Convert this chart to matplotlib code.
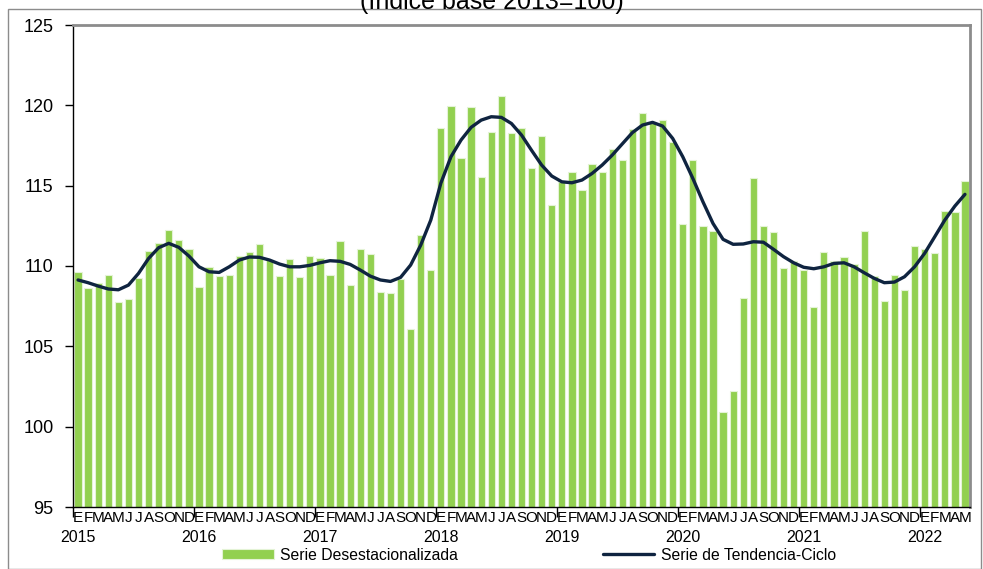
import matplotlib.pyplot as plt
import numpy as np
from matplotlib.patches import Rectangle

plt.rcParams["font.family"] = ["Liberation Sans", "DejaVu Sans"]

## Data (Jan 2015 - May 2022)
years = ["2015", "2016", "2017", "2018", "2019", "2020", "2021", "2022"]
month_letters = ["E", "F", "M", "A", "M", "J", "J", "A", "S", "O", "N", "D"]

desest = [
    109.64, 108.65, 108.95, 109.42, 107.76, 107.92, 109.25, 110.93, 111.43, 112.26, 111.61, 111.05,  # 2015
    108.69, 109.91, 109.37, 109.41, 110.64, 110.85, 111.39, 110.37, 109.37, 110.43, 109.31, 110.64,  # 2016
    110.47, 109.44, 111.55, 108.79, 111.05, 110.74, 108.40, 108.30, 109.21, 106.08, 111.93, 109.75,  # 2017
    118.56, 119.95, 116.70, 119.87, 115.52, 118.31, 120.60, 118.29, 118.60, 116.08, 118.12, 113.77,  # 2018
    115.24, 115.87, 114.71, 116.33, 115.83, 117.26, 116.57, 118.54, 119.54, 118.87, 119.08, 117.73,  # 2019
    112.59, 116.57, 112.51, 112.17, 100.89, 102.20, 108.00, 115.49, 112.49, 112.09, 109.89, 110.31,  # 2020
    109.77, 107.45, 110.87, 110.31, 110.56, 110.10, 112.17, 109.39, 107.82, 109.42, 108.52, 111.22,  # 2021
    111.05, 110.82, 113.40, 113.36, 115.27,                                                          # 2022
]

tendencia = [
    109.13, 108.96, 108.75, 108.57, 108.52, 108.81, 109.54, 110.47, 111.14, 111.41, 111.16, 110.62,
    109.95, 109.64, 109.60, 109.95, 110.37, 110.56, 110.54, 110.37, 110.12, 109.95, 109.95, 110.04,
    110.20, 110.33, 110.29, 110.10, 109.75, 109.37, 109.13, 109.04, 109.29, 110.06, 111.30, 112.86,
    115.16, 116.80, 117.84, 118.63, 119.08, 119.29, 119.25, 118.87, 118.15, 117.20, 116.28, 115.60,
    115.24, 115.18, 115.35, 115.76, 116.28, 116.90, 117.60, 118.30, 118.77, 118.94, 118.71, 117.94,
    116.80, 115.45, 114.00, 112.65, 111.66, 111.35, 111.37, 111.51, 111.48, 111.04, 110.58, 110.20,
    109.92, 109.83, 109.95, 110.16, 110.20, 109.95, 109.58, 109.23, 108.96, 109.00, 109.33, 109.95,
    110.79, 111.82, 112.86, 113.73, 114.46,
]

n = len(desest)
x = np.arange(n)

## Figure
fig = plt.figure(figsize=(9.83, 5.69), dpi=100)
ax = fig.add_axes([73 / 983, 62 / 569, 897 / 983, 482 / 569])

bars = ax.bar(x, desest, width=0.72, bottom=0, color="#92D050", edgecolor="#e4f3d6",
              linewidth=0.8, label="Serie Desestacionalizada", zorder=2)
line, = ax.plot(x, tendencia, color="#0f2440", linewidth=2.4, solid_capstyle="round",
                label="Serie de Tendencia-Ciclo", zorder=3)

ax.set_ylim(95, 125)
ax.set_xlim(-0.5, n - 0.5)
ax.set_yticks(np.arange(95, 126, 5))
ax.tick_params(axis="y", labelsize=13, length=6, width=1, pad=8)

# month letters under each bar, year boundary ticks
ax.set_xticks(x)
ax.set_xticklabels([month_letters[i % 12] for i in x], fontsize=11)
ax.tick_params(axis="x", length=0, pad=3)
ax.set_xticks(np.arange(-0.5, n, 12), minor=True)
ax.tick_params(axis="x", which="minor", length=7, width=1, color="black")
for k, yr in enumerate(years):
    ax.text(12 * k, -0.063, yr, transform=ax.get_xaxis_transform(),
            ha="center", va="center", fontsize=11.5)

for s in ["left", "bottom"]:
    ax.spines[s].set_color("black")
    ax.spines[s].set_linewidth(1)
for s in ["top", "right"]:
    ax.spines[s].set_color("#8c8c8c")
    ax.spines[s].set_linewidth(2)

# title partly cut by the top edge, as in the original
fig.text(0.5, 1.0, "(Índice base 2013=100)", ha="center", va="center", fontsize=18)

# outer chart frame
fig.patches.append(Rectangle((8 / 983, 0.5 / 569), 973 / 983, 560 / 569,
                             transform=fig.transFigure, fill=False,
                             edgecolor="#8c8c8c", linewidth=1))

fig.legend(handles=[bars, line], loc="center", bbox_to_anchor=(529 / 983, 14 / 569), ncol=2,
           frameon=False, fontsize=11.3, handlelength=3.3, handleheight=0.6,
           handletextpad=0.4, columnspacing=9.2)

fig.savefig("out.png", dpi=100)
